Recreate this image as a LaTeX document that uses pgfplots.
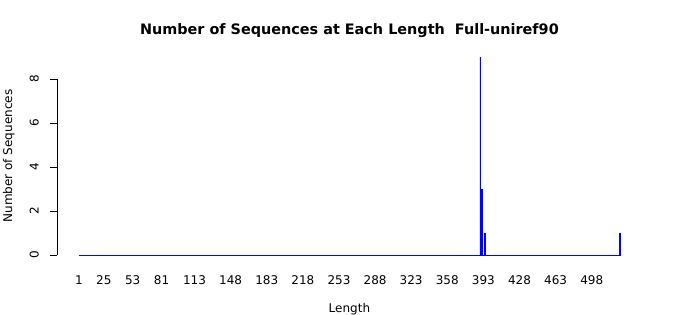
\documentclass[border=0pt]{standalone}
\usepackage{pgfplots}
\pgfplotsset{compat=1.18}
\usepackage{fontspec}
\setmainfont{DejaVu Sans}
\begin{document}
\begin{tikzpicture}
\useasboundingbox (-56.9pt,-52.1pt) rectangle (643.1pt,262.9pt);
\begin{axis}[
  at={(0,0)}, anchor=south west,
  scale only axis,
  width=585pt, height=213.8pt,
  xmin=-20.42, xmax=546.66,
  ymin=-0.36, ymax=9.36,
  axis line style={draw=none},
  clip=false,
  xtick={1,25,53,81,113,148,183,218,253,288,323,358,393,428,463,498},
  xtick style={draw=none},
  xticklabel style={font=\fontsize{12}{14}\selectfont, anchor=north, yshift=-2pt},
  ytick={0,2,4,6,8},
  yticklabels={0,2,4,6,8},
  ytick pos=left,
  tick align=outside,
  major tick length=7pt,
  ytick style={black, line width=0.6pt},
  yticklabel style={font=\fontsize{12}{14}\selectfont, rotate=90, anchor=south, inner sep=0pt, yshift=11pt},
  /pgf/number format/assume math mode=true,
  xlabel={Length},
  ylabel={Number of Sequences},
  xlabel style={font=\fontsize{12}{14}\selectfont, at={(axis description cs:0.5,-0.216)}, anchor=center},
  ylabel style={font=\fontsize{12}{14}\selectfont, at={(axis description cs:-0.0821,0.5)}, anchor=center},
  title={\bfseries Number of Sequences at Each Length\ \ Full-uniref90},
  title style={font=\fontsize{14.4}{16}\selectfont, at={(axis description cs:0.5,1.0589)}, anchor=center},
]
\addplot[blue, line width=0.6pt, forget plot] coordinates {(0.583,0) (525.417,0)};
\addplot[ybar, bar width=0.833, fill=blue, draw=blue, line width=0.5pt] coordinates {
(390,9) (391,3) (394,1) (525,1)
};
\end{axis}
\draw[black, line width=0.6pt] (0pt,7.92pt) -- (0pt,183.92pt);
\end{tikzpicture}
\end{document}
